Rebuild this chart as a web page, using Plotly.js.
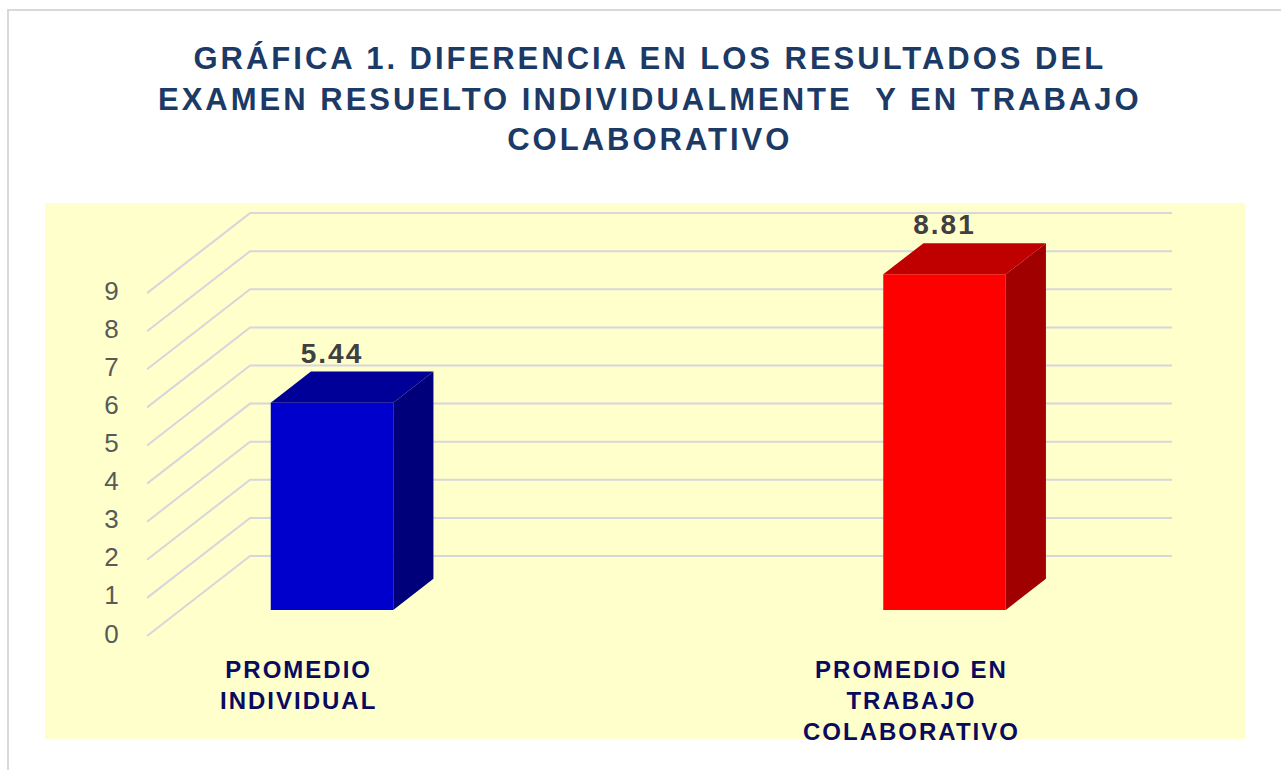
<!DOCTYPE html>
<html>
<head>
<meta charset="utf-8">
<script src="https://cdn.plot.ly/plotly-3.0.1.min.js"></script>
<style>
  html, body { margin: 0; padding: 0; background: #ffffff; }
  #chart { width: 1281px; height: 770px; }
  .gtitle { letter-spacing: 3px; }
  .annotation-text { letter-spacing: 2px; }
  .textpoint text { letter-spacing: 2px; }
</style>
</head>
<body>
<div id="chart"></div>
<script>
// ---------------- data ----------------
const categories = ["PROMEDIO<br>INDIVIDUAL", "PROMEDIO EN<br>TRABAJO<br>COLABORATIVO"];
const values = [5.44, 8.81];
const valueLabels = ["5.44", "8.81"];
const tickValues = [0, 1, 2, 3, 4, 5, 6, 7, 8, 9];
const tickLabels = ["0", "1", "2", "3", "4", "5", "6", "7", "8", "9"];
const frontColors = ["#0000CC", "#FF0000"];
const topColors = ["#000099", "#C00000"];
const sideColors = ["#00007A", "#A00000"];

// ---------------- style / geometry constants ----------------
const BAR_W = 0.2;          // bar width in category units
const WALL_DX = 0.1682;     // full depth vector (x) in data units
const WALL_DY = 2.10;       // full depth vector (y) in value units
const BAR_D0 = 0.325;       // depth of bar front face (0 = front plane, 1 = back wall)
const BAR_D1 = 0.715;       // depth of bar back face
const GRID_XL = -0.2473;    // left end of grid (at bar plane reference)
const GRID_XR = 1.2579;     // right end of grid
const FONT = "Liberation Sans, Arial, sans-serif";

function P(x, v, d) {
  return [x + (d - BAR_D0) * WALL_DX, v + (d - BAR_D0) * WALL_DY];
}

const xs = categories.map((c, i) => i);
const traces = [];

// gridlines (front plane -> back wall -> right), drawn below the traces
const gridShapes = tickValues.map(t => {
  const a = P(GRID_XL, t, 0), b = P(GRID_XL, t, 1), c = P(GRID_XR, t, 1);
  return {
    type: "path", xref: "x", yref: "y", layer: "below",
    path: "M " + a[0] + "," + a[1] + " L " + b[0] + "," + b[1] + " L " + c[0] + "," + c[1],
    line: { color: "#D6D6DC", width: 2 }
  };
});

// tick labels on the front plane
traces.push({
  type: "scatter", mode: "text", hoverinfo: "skip",
  x: tickValues.map(t => P(GRID_XL, t, 0)[0] - 0.043),
  y: tickValues.map(t => P(GRID_XL, t, 0)[1]),
  text: tickLabels,
  textposition: "middle left",
  textfont: { family: FONT, size: 26, color: "#595959" }
});

// front faces (real bars)
traces.push({
  type: "bar", x: xs, y: values, width: BAR_W, hoverinfo: "skip",
  marker: { color: frontColors, line: { width: 0 } }
});

const depthX = (BAR_D1 - BAR_D0) * WALL_DX;
const depthY = (BAR_D1 - BAR_D0) * WALL_DY;

values.forEach((v, i) => {
  const l = i - BAR_W / 2, r = i + BAR_W / 2;
  // top face
  traces.push({
    type: "scatter", mode: "lines", fill: "toself", hoverinfo: "skip",
    x: [l, r, r + depthX, l + depthX, l],
    y: [v, v, v + depthY, v + depthY, v],
    fillcolor: topColors[i], line: { width: 0, color: topColors[i] }
  });
  // side face
  traces.push({
    type: "scatter", mode: "lines", fill: "toself", hoverinfo: "skip",
    x: [r, r, r + depthX, r + depthX, r],
    y: [0, v, v + depthY, depthY, 0],
    fillcolor: sideColors[i], line: { width: 0, color: sideColors[i] }
  });
});

// value labels
traces.push({
  type: "scatter", mode: "text", hoverinfo: "skip",
  x: xs,
  y: values.map(v => v + depthY + 0.05),
  text: valueLabels,
  textposition: "top center",
  textfont: { family: FONT, size: 28, color: "#404040", weight: 700 }
});

// category labels
const annotations = categories.map((c, i) => ({
  x: P(i, 0, 0)[0], y: P(i, 0, 0)[1] - 0.47,
  xref: "x", yref: "y", xanchor: "center", yanchor: "top",
  text: c, showarrow: false, align: "center",
  font: { family: FONT, size: 24, color: "#0A0A5E", weight: 700 }
}));

const layout = {
  width: 1281, height: 770,
  margin: { l: 45, r: 36, t: 203, b: 31, pad: 0 },
  paper_bgcolor: "#FFFFFF",
  plot_bgcolor: "#FFFFCC",
  showlegend: false,
  title: {
    text: "GRÁFICA 1. DIFERENCIA EN LOS RESULTADOS DEL<br>EXAMEN RESUELTO INDIVIDUALMENTE  Y EN TRABAJO<br>COLABORATIVO",
    x: 0.504, xanchor: "center", xref: "paper",
    y: 0.910, yanchor: "top", yref: "container",
    font: { family: FONT, size: 31, color: "#1B3A66", weight: 700 }
  },
  xaxis: { range: [-0.46857, 1.49061], visible: false, fixedrange: true },
  yaxis: { range: [(610 - 739) / 38.1, (610 - 203) / 38.1], visible: false, fixedrange: true },
  annotations: annotations,
  shapes: [{
    type: "rect", xref: "paper", yref: "paper",
    x0: (8 - 45) / 1200, x1: (1300 - 45) / 1200,
    y0: (739 - 790) / 536, y1: (739 - 10) / 536,
    line: { color: "#D9D9D9", width: 2 }, fillcolor: "rgba(0,0,0,0)", layer: "below"
  }].concat(gridShapes)
};

Plotly.newPlot("chart", traces, layout, { displayModeBar: false, staticPlot: true });
</script>
</body>
</html>
